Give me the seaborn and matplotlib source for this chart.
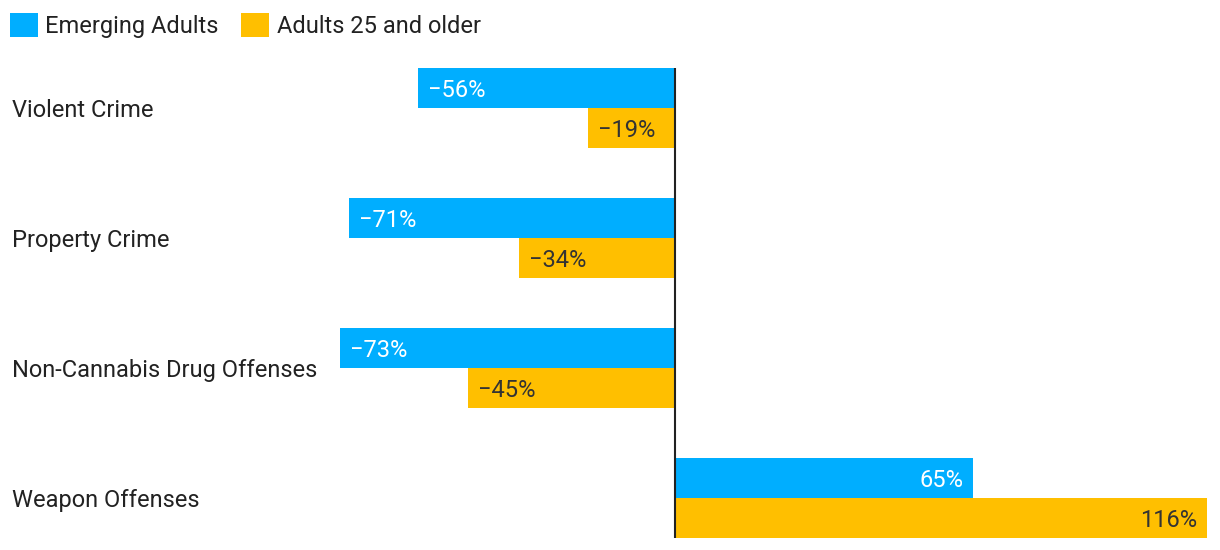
import matplotlib
matplotlib.use("Agg")
import matplotlib.pyplot as plt
import matplotlib.transforms as mtransforms
from matplotlib.patches import Patch
import seaborn as sns
import pandas as pd

categories = ["Violent Crime", "Property Crime", "Non-Cannabis Drug Offenses", "Weapon Offenses"]
series_names = ["Emerging Adults", "Adults 25 and older"]
emerging = [-56, -71, -73, 65]
older = [-19, -34, -45, 116]
colors = ["#00AEFF", "#FFBF00"]
text_colors = ["#FFFFFF", "#333333"]

sns.set_theme(style="white")
plt.rcParams['font.family'] = ['Roboto', 'DejaVu Sans']

df = pd.DataFrame({
    "category": categories * 2,
    "series": [series_names[0]] * 4 + [series_names[1]] * 4,
    "value": emerging + older,
})

fig = plt.figure(figsize=(12.2, 5.5), dpi=100)
W, H = 1220, 550
ax_left, ax_right, ax_top, ax_bottom = 330, 1215, 60, 545
ax = fig.add_axes([ax_left / W, 1 - ax_bottom / H, (ax_right - ax_left) / W, (ax_bottom - ax_top) / H])

bw = 80 / 130
sns.barplot(data=df, y="category", x="value", hue="series", order=categories,
            hue_order=series_names, palette=colors, orient="h", width=bw,
            saturation=1, ax=ax, legend=False, linewidth=0)

px_per = 4.59
zero_px = 675
ax.set_xlim((ax_left - zero_px) / px_per, (ax_right - zero_px) / px_per)
ax.set_ylim(3 + (ax_bottom - 498) / 130, -(108 - ax_top) / 130)

for s in ax.spines.values():
    s.set_visible(False)
ax.set_xticks([])
ax.set_yticks([])
ax.set_xlabel("")
ax.set_ylabel("")

half = bw / 2
ax.vlines(0, -half, len(categories) - 1 + half, color="#222222", lw=1.5, zorder=5)

FS = 17
DY = -2.5
# labels inside bars
for ci, cont in enumerate(ax.containers):
    for bar, v in zip(cont, [emerging, older][ci]):
        y = bar.get_y() + bar.get_height() / 2
        txt = ("\u2212" if v < 0 else "") + f"{abs(v)}%"
        end = bar.get_x() + bar.get_width()
        offset = mtransforms.offset_copy(ax.transData, fig=fig, x=(-10 if v >= 0 else 10), y=DY, units="dots")
        ax.text(end, y, txt, transform=offset, ha="right" if v >= 0 else "left",
                va="center", color=text_colors[ci], fontsize=FS)

# category labels
trans = mtransforms.blended_transform_factory(fig.transFigure, ax.transData)
trans = mtransforms.offset_copy(trans, fig=fig, x=0, y=DY, units="dots")
for i, c in enumerate(categories):
    ax.text(12 / W, i, c, transform=trans, ha="left", va="center", fontsize=FS, color="#222222")

handles = [Patch(facecolor=colors[i], edgecolor="none", label=series_names[i]) for i in range(2)]
fig.legend(handles=handles, loc="upper left", bbox_to_anchor=(0.0, 1 - 3 / H), ncol=2, frameon=False,
           fontsize=FS, handlelength=1.2, handleheight=1.2, handletextpad=0.3, columnspacing=0.95,
           borderaxespad=0.0, borderpad=0.42, labelcolor="#222222")

fig.savefig("out.png", dpi=100, facecolor="white")
